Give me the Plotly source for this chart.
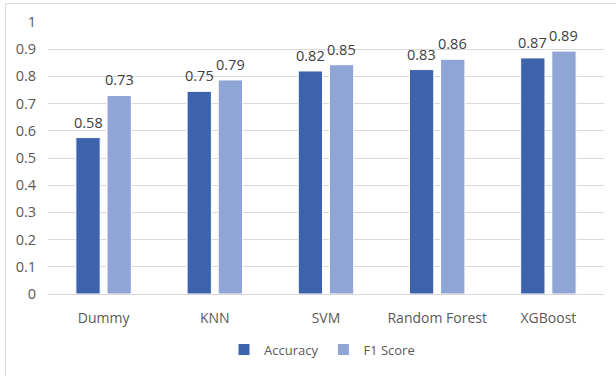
import plotly.graph_objects as go

categories = ["Dummy", "KNN", "SVM", "Random Forest", "XGBoost"]
accuracy = [0.575, 0.745, 0.82, 0.825, 0.868]
f1_score = [0.73, 0.787, 0.843, 0.863, 0.893]
accuracy_labels = ["0.58", "0.75", "0.82", "0.83", "0.87"]
f1_labels = ["0.73", "0.79", "0.85", "0.86", "0.89"]
y_ticks = [0, 0.1, 0.2, 0.3, 0.4, 0.5, 0.6, 0.7, 0.8, 0.9, 1]
y_tick_text = ["0", "0.1", "0.2", "0.3", "0.4", "0.5", "0.6", "0.7", "0.8", "0.9", "1"]

FONT = "Open Sans"
ACC_COLOR = "#3C63AC"
F1_COLOR = "#8FA5D5"

fig = go.Figure()
fig.add_trace(go.Bar(
    name="Accuracy", x=categories, y=accuracy, cliponaxis=False,
    marker=dict(color=ACC_COLOR, line=dict(color="white", width=1)),
))
fig.add_trace(go.Bar(
    name="F1 Score", x=categories, y=f1_score, cliponaxis=False,
    marker=dict(color=F1_COLOR, line=dict(color="white", width=1)),
))

W, H = 616, 376
L, R, T, B = 48, 604, 22, 296
pw, ph = R - L, B - T
BARGAP, GROUPGAP = 0.44, 0.22
slot_px = pw / len(categories) * (1 - BARGAP) / 2

def px(x):
    return (x - L) / pw

def py(y):
    return (B - y) / ph

annotations = []
for series, labels, sign in ((accuracy, accuracy_labels, -1), (f1_score, f1_labels, 1)):
    for cat, val, lab in zip(categories, series, labels):
        annotations.append(dict(
            x=cat, y=val, xref="x", yref="y", text=lab, showarrow=False,
            xanchor="center", yanchor="bottom", xshift=sign * slot_px / 2, yshift=4,
            font=dict(family=FONT, size=14.5, color="#404040"),
        ))

fig.update_layout(
    width=W, height=H,
    margin=dict(l=L, r=W - R, t=T, b=H - B, pad=0),
    paper_bgcolor="white", plot_bgcolor="white",
    barmode="group", bargap=BARGAP, bargroupgap=GROUPGAP,
    font=dict(family=FONT, size=14, color="#595959"),
    showlegend=True,
    legend=dict(orientation="h", x=px(322), y=py(352), xanchor="center", yanchor="middle",
                font=dict(family=FONT, size=13, color="#595959"), itemwidth=30,
                traceorder="normal", bgcolor="rgba(0,0,0,0)"),
    xaxis=dict(showgrid=False, showline=True, linecolor="#d9d9d9", linewidth=1,
               ticks="outside", ticklen=11, tickcolor="rgba(0,0,0,0)",
               tickfont=dict(family=FONT, size=14, color="#595959")),
    yaxis=dict(range=[0, 1], tickvals=y_ticks, ticktext=y_tick_text,
               showgrid=True, gridcolor="#d9d9d9", gridwidth=1, zeroline=False,
               showline=False, ticks="outside", ticklen=8, tickcolor="rgba(0,0,0,0)",
               tickfont=dict(family=FONT, size=14.5, color="#595959")),
    annotations=annotations,
    shapes=[
        dict(type="line", xref="paper", yref="paper", x0=px(5.5), x1=px(5.5),
             y0=py(3.5), y1=py(380), line=dict(color="#d9d9d9", width=1)),
        dict(type="line", xref="paper", yref="paper", x0=px(5.5), x1=px(620),
             y0=py(3.5), y1=py(3.5), line=dict(color="#d9d9d9", width=1)),
    ],
)

fig.write_html("out.html")
